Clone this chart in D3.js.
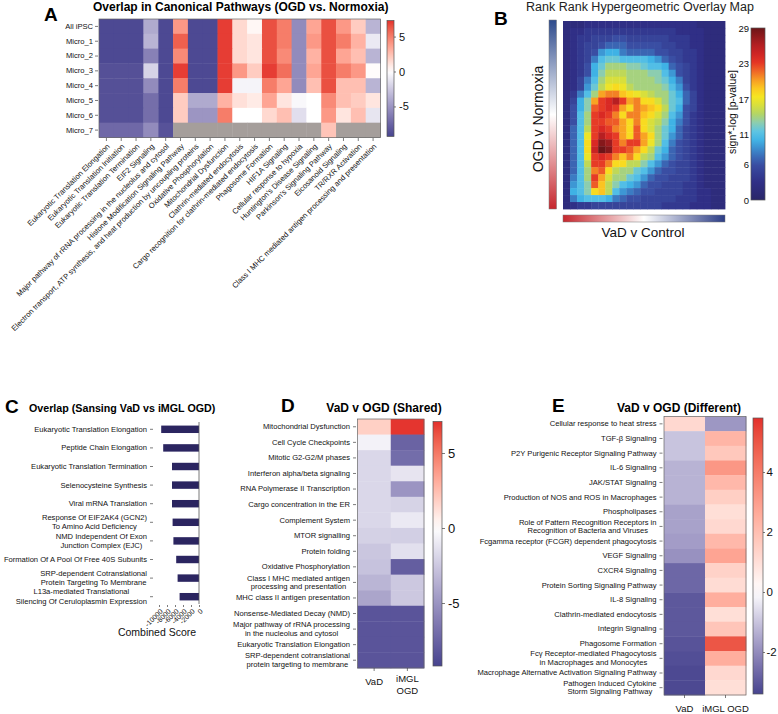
<!DOCTYPE html>
<html><head><meta charset="utf-8">
<script src="https://cdn.jsdelivr.net/npm/d3@7"></script>
<style>
body{margin:0;background:#fff}
svg{display:block}
text{font-family:"Liberation Sans",Arial,sans-serif}
</style>
</head><body>
<svg id="chart" width="778" height="714"></svg>
<script>
// ================= DATA =================
// Panel A
const samplesA = ["All iPSC","Micro_1","Micro_2","Micro_3","Micro_4","Micro_5","Micro_6","Micro_7"];
const pathwaysA = ["Eukaryotic Translation Elongation","Eukaryotic Translation Initiation","Eukaryotic Translation Termination","EIF2 Signaling","Major pathway of rRNA processing in the nucleolus and cytosol","Histone Modification Signaling Pathway","Electron transport, ATP synthesis, and heat production by uncoupling proteins","Oxidative Phosphorylation","Mitochondrial Dysfunction","Clathrin-mediated endocytosis","Cargo recognition for clathrin-mediated endocytosis","Phagosome Formation","HIF1A Signaling","Cellular response to hypoxia","Huntington's Disease Signaling","Parkinson's Signaling Pathway","Eicosanoid Signaling","TR/RXR Activation","Class I MHC mediated antigen processing and presentation"];
const valuesA = [
  [-9,-9,-9,-4,-9,4,-9,-9,7,1.5,0.3,6.5,5,-5.5,3.5,6.5,4,2,-3.5],
  [-9,-9,-9,-3.5,-9,6,-9,-9,7,1.5,1,6.5,5,-5.5,4,6.5,5,3,-1],
  [-9,-9,-9,-6,-9,4.5,-9,-9,7,1.5,1,6.5,4.5,-5.5,3,6.5,3.5,2.5,-3.5],
  [-8.6,-8.6,-8.6,-2,-9,7,-9,-9,7,4,2,7,5.5,-5.5,3.5,6.5,5,4,0.1],
  [-8.6,-8.6,-8.6,-5.5,-9,5,-9,-9,7,-0.5,-0.5,5,3.5,-5.5,2.5,6.5,2.5,2.5,-3.5],
  [-8.6,-8.6,-8.6,-7,-9,2,-4,-4,3,1.2,0.8,3.5,1,-0.3,0,4.5,2.5,2,1],
  [-8.6,-8.6,-8.6,-7,-9,2,-5,-5,5,0,0,1.5,2.5,-1.5,0,4,1,2.5,-1.2],
  [-7.3,-7.3,-7.3,-5.5,-8.5,null,null,null,null,null,null,null,null,null,null,2.3,null,null,null]
];
const ticksA = [5,0,-5];

// Panel B (RRHO map, rows top->bottom, cols left->right, sign*-log p)
const rrhoB = [
  [2,2,2,3,3,3,3,3,3,3,3,3,3,3,3,3,3,3,3,2,2,2,2],
  [2,3,3,4,4,4,4,4,4,4,4,4,4,4,4,4,3,3,3,3,2,2,2],
  [2,3,4,4,5,5,5,6,6,5,5,5,5,5,5,4,4,4,3,3,2,2,2],
  [2,3,4,5,5,6,7,7,7,6,6,6,6,6,5,5,4,4,3,3,2,2,2],
  [2,3,4,5,6,9,10,10,8,7,7,7,7,6,6,5,5,4,4,3,2,2,2],
  [2,3,4,5,8,11,12,12,11,11,11,11,10,9,7,6,5,4,4,3,2,2,2],
  [2,3,4,6,10,12,14,14,14,13,13,12,11,11,10,7,6,5,4,3,2,2,2],
  [2,3,4,6,10,13,15,15,15,14,14,14,13,13,11,9,6,5,4,3,2,2,2],
  [2,3,5,8,11,14,16,16,16,14,14,14,14,13,12,10,8,5,4,3,2,2,2],
  [2,3,5,9,12,15,17,18,17,15,14,14,14,14,13,11,9,6,4,3,2,2,2],
  [2,4,8,11,14,20,21,21,19,18,17,16,15,14,14,12,10,7,5,3,2,2,2],
  [2,5,10,13,20,23,24,26,23,20,21,18,18,16,14,12,11,7,5,3,2,2,2],
  [2,6,10,13,22,23,24,23,20,18,21,20,19,18,15,12,10,6,5,3,2,2,2],
  [2,6,11,14,23,24,23,21,18,21,21,19,18,16,14,11,9,6,4,3,2,2,2],
  [2,6,11,14,23,23,22,22,20,18,21,18,16,15,13,10,8,6,4,3,2,2,2],
  [2,7,11,15,23,24,23,21,20,18,22,18,16,14,12,10,7,5,4,3,2,2,2],
  [2,7,11,17,23,26,24,23,20,18,22,20,18,14,12,9,7,5,4,3,2,2,2],
  [2,7,11,18,24,28,27,23,21,23,23,20,17,14,11,8,6,5,4,3,2,2,2],
  [2,7,11,18,25,29,28,23,23,22,20,18,15,12,10,7,6,5,4,3,2,2,2],
  [2,7,11,17,23,24,23,21,19,21,18,15,14,11,9,7,6,5,4,3,2,2,2],
  [2,7,11,15,23,23,21,18,18,15,15,13,11,9,7,6,5,5,4,3,2,2,2],
  [2,7,11,14,21,22,18,15,14,14,12,11,9,7,6,6,5,5,4,3,2,2,2],
  [2,8,11,14,23,20,16,14,14,12,11,9,7,6,6,5,5,5,4,3,2,2,2],
  [2,9,11,13,22,19,15,13,11,10,9,7,6,6,5,5,5,4,4,3,2,2,2],
  [2,10,11,13,18,19,15,11,9,8,7,6,6,5,5,5,5,4,4,3,3,2,2],
  [2,8,10,11,11,11,10,8,7,6,6,5,5,5,5,5,4,4,4,3,3,2,2],
  [2,3,4,4,5,5,5,5,5,5,5,5,5,5,4,4,4,4,3,3,3,2,2]
];
const ticksB = [0,6,11,17,23,29];

// Panel C
const pathwaysC = ["Eukaryotic Translation Elongation","Peptide Chain Elongation","Eukaryotic Translation Termination","Selenocysteine Synthesis","Viral mRNA Translation","Response Of EIF2AK4 (GCN2)\nTo Amino Acid Deficiency","NMD Independent Of Exon\nJunction Complex (EJC)","Formation Of A Pool Of Free 40S Subunits","SRP-dependent Cotranslational\nProtein Targeting To Membrane","L13a-mediated Translational\nSilencing Of Ceruloplasmin Expression"];
const scoresC = [-9450,-8950,-6750,-6750,-6750,-6600,-6400,-5700,-5350,-4850];
const ticksC = [-10000,-8000,-6000,-4000,-2000,0];

// Panel D
const columnsDE = ["VaD","iMGL OGD"];
const pathwaysD = ["Mitochondrial Dysfunction","Cell Cycle Checkpoints","Mitotic G2-G2/M phases","Interferon alpha/beta signaling","RNA Polymerase II Transcription","Cargo concentration in the ER","Complement System","MTOR signalling","Protein folding","Oxidative Phosphorylation","Class I MHC mediated antigen\nprocessing and presentation","MHC class II antigen presentation","Nonsense-Mediated Decay (NMD)","Major pathway of rRNA processing\nin the nucleolus and cytosol","Eukaryotic Translation Elongation","SRP-dependent cotranslational\nprotein targeting to membrane"];
const vadD  = [1.8,-0.6,-1.8,-1.8,-1.8,-1.8,-1.8,-2.1,-2.6,-2.8,-3.4,-4.2,-8.3,-8.3,-8.3,-8.3];
const imglD = [7.0,-7.5,-7.0,-1.2,-5.0,-2.0,-1.0,-2.2,-1.4,-7.8,-2.5,-2.5,-8.3,-8.3,-8.3,-8.3];
const ticksD = [5,0,-5];

// Panel E
const pathwaysE = ["Cellular response to heat stress","TGF-\u03b2 Signaling","P2Y Purigenic Receptor Signaling Pathway","IL-6 Signaling","JAK/STAT Signaling","Production of NOS and ROS in Macrophages","Phospholipases","Role of Pattern Recognition Receptors in\nRecognition of Bacteria and Viruses","Fcgamma receptor (FCGR) dependent phagocytosis","VEGF Signaling","CXCR4 Signaling","Protein Sorting Signaling Pathway","IL-8 Signaling","Clathrin-mediated endocytosis","Integrin Signaling","Phagosome Formation","Fc\u03b3 Receptor-mediated Phagocytosis\nin Macrophages and Monocytes","Macrophage Alternative Activation Signaling Pathway","Pathogen Induced Cytokine\nStorm Signaling Pathway"];
const vadE  = [1.2,-1.0,-1.0,-1.3,-1.3,-1.3,-1.6,-1.6,-1.7,-1.9,-2.7,-2.7,-3.0,-3.0,-3.0,-3.1,-3.2,-3.3,-3.3];
const imglE = [-1.8,2.3,1.7,3.2,2.2,1.5,1.0,1.2,2.2,2.8,1.4,1.1,2.5,1.0,1.8,5.0,2.5,1.2,1.0];
const ticksE = [4,2,0,-2];

// ================= DRAWING =================
const svg = d3.select("#chart");
svg.append("rect").attr("width",778).attr("height",714).attr("fill","#fff");
const defs = svg.append("defs");
const BLUE = "#47448f", RED = "#e3302c";
function divScale(min, max){
  return d3.scaleLinear().domain([min,0,max]).range([BLUE,"#ffffff",RED]).interpolate(d3.interpolateLab).clamp(true);
}
function styleAxis(g, fs){
  g.attr("font-family",'"Liberation Sans",Arial,sans-serif').attr("font-size",fs);
  g.select(".domain").remove();
  g.selectAll(".tick line").attr("stroke","#444").attr("stroke-width",0.7);
  g.selectAll(".tick text").attr("fill","#111");
}
function multiline(g, lh, fs){
  g.selectAll(".tick text").each(function(d){
    const lines = String(d).split("\n");
    if(lines.length < 2) return;
    const t = d3.select(this);
    const x = +t.attr("x");
    t.text(null).attr("dy",null);
    const n = lines.length;
    lines.forEach((ln,i)=>{
      t.append("tspan").attr("x",x).attr("dy", i===0 ? (-(n-1)/2*lh + 0.32*fs) : lh).text(ln);
    });
    const maxW = d3.max(t.selectAll("tspan").nodes(), nd=>nd.getComputedTextLength());
    t.attr("text-anchor","middle");
    t.selectAll("tspan").attr("x", x - maxW/2);
  });
}
function vColorbar(id, x, y0, y1, w, scale, ticks, fs, tickSide){
  const dom = scale.domain();
  const min = dom[0], max = dom[dom.length-1];
  const grad = defs.append("linearGradient").attr("id",id).attr("x1",0).attr("y1",0).attr("x2",0).attr("y2",1);
  d3.range(0,1.0001,0.05).forEach(o=>{
    grad.append("stop").attr("offset",o).attr("stop-color", scale(max - o*(max-min)));
  });
  svg.append("rect").attr("x",x).attr("y",y0).attr("width",w).attr("height",y1-y0)
    .attr("fill",`url(#${id})`).attr("stroke","#555").attr("stroke-width",0.7);
  const ys = d3.scaleLinear().domain([min,max]).range([y1,y0]);
  const ax = (tickSide==="left" ? d3.axisLeft(ys) : d3.axisRight(ys)).tickValues(ticks).tickFormat(d=>String(d));
  const g = svg.append("g").attr("transform",`translate(${tickSide==="left"?x:x+w},0)`);
  return {g, ax, ys};
}

// ---------- Panel A ----------
const xA = d3.scaleBand().domain(pathwaysA).range([99, 380.5]);
const yA = d3.scaleBand().domain(samplesA).range([19, 137.5]);
const colA = divScale(-9.3, 7.3);
const cellsA = [];
samplesA.forEach((s,i)=>pathwaysA.forEach((p,j)=>cellsA.push({s,p,v:valuesA[i][j]})));
svg.append("g").selectAll("rect").data(cellsA).join("rect")
  .attr("x",d=>xA(d.p)).attr("y",d=>yA(d.s))
  .attr("width",xA.bandwidth()+0.4).attr("height",yA.bandwidth()+0.4)
  .attr("fill",d=>d.v===null ? "#a59e9b" : colA(d.v));
svg.append("rect").attr("x",99).attr("y",19).attr("width",281.5).attr("height",118.5)
  .attr("fill","none").attr("stroke","#666").attr("stroke-width",0.7);
svg.append("g").attr("transform","translate(98,0)")
  .call(d3.axisLeft(yA).tickSize(3).tickPadding(2))
  .call(g=>styleAxis(g,7.6));
svg.append("g").attr("transform","translate(0,138)")
  .call(d3.axisBottom(xA).tickSize(3))
  .call(g=>styleAxis(g,7.6))
  .call(g=>g.selectAll(".tick text").attr("x",0).attr("y",0).attr("dy","0.35em")
      .attr("text-anchor","end").attr("transform","translate(2,7) rotate(-45)"));
{
  const cb = vColorbar("gradA", 387, 20.5, 136.5, 7, colA, ticksA, 11, "right");
  cb.g.call(cb.ax.tickSize(2).tickPadding(3)).call(g=>styleAxis(g,11));
}
svg.append("text").attr("x",44).attr("y",21).attr("font-size",19).attr("font-weight","bold").text("A");
svg.append("text").attr("x",93).attr("y",11).attr("font-size",12).attr("font-weight","bold").text("Overlap in Canonical Pathways (OGD vs. Normoxia)");

// ---------- Panel B ----------
const nColB = rrhoB[0].length, nRowB = rrhoB.length;
const xB = d3.scaleBand().domain(d3.range(nColB)).range([563, 725]);
const yB = d3.scaleBand().domain(d3.range(nRowB)).range([21, 209]);
const colB = d3.scaleLinear()
  .domain([0,3,6,8,10,11.5,13,14.5,16,17.5,19,20.5,22,23.5,26,29])
  .range(["#2a2768","#302f86","#3a4ea3","#3b7cc3","#3fb2e5","#5cc4e6","#8ccdb0","#b3d566","#d8df3c","#f7e71f","#fbc421","#f69424","#ee5b27","#e22b25","#b71f22","#6c1518"])
  .clamp(true);
const cellsB = [];
rrhoB.forEach((row,i)=>row.forEach((v,j)=>cellsB.push({i,j,v})));
svg.append("g").selectAll("rect").data(cellsB).join("rect")
  .attr("x",d=>xB(d.j)).attr("y",d=>yB(d.i))
  .attr("width",xB.bandwidth()+0.4).attr("height",yB.bandwidth()+0.4)
  .attr("fill",d=>colB(d.v));
// side gradient bars
{
  const gv = defs.append("linearGradient").attr("id","gradBv").attr("x1",0).attr("y1",0).attr("x2",0).attr("y2",1);
  gv.append("stop").attr("offset",0).attr("stop-color","#2d4a8c");
  gv.append("stop").attr("offset",0.5).attr("stop-color","#ffffff");
  gv.append("stop").attr("offset",1).attr("stop-color","#c6262d");
  svg.append("rect").attr("x",549).attr("y",20).attr("width",7.5).attr("height",189)
    .attr("fill","url(#gradBv)").attr("stroke","#777").attr("stroke-width",0.5);
  const gh = defs.append("linearGradient").attr("id","gradBh").attr("x1",0).attr("y1",0).attr("x2",1).attr("y2",0);
  gh.append("stop").attr("offset",0).attr("stop-color","#c6262d");
  gh.append("stop").attr("offset",0.5).attr("stop-color","#ffffff");
  gh.append("stop").attr("offset",1).attr("stop-color","#2b3c86");
  svg.append("rect").attr("x",563).attr("y",215).attr("width",162).attr("height",7)
    .attr("fill","url(#gradBh)").attr("stroke","#777").attr("stroke-width",0.5);
}
{
  const cb = vColorbar("gradB", 751, 28, 200, 14, colB, ticksB, 9.5, "left");
  cb.g.call(cb.ax.tickSize(0).tickPadding(2)).call(g=>styleAxis(g,9.5));
}
svg.append("text").attr("x",494).attr("y",25).attr("font-size",19).attr("font-weight","bold").text("B");
svg.append("text").attr("x",640).attr("y",11).attr("font-size",12.5).attr("text-anchor","middle").attr("fill","#222").text("Rank Rank Hypergeometric Overlay Map");
svg.append("text").attr("x",643).attr("y",237).attr("font-size",13.5).attr("text-anchor","middle").attr("fill","#111").text("VaD v Control");
svg.append("text").attr("transform","translate(543,119) rotate(-90)").attr("font-size",14).attr("text-anchor","middle").attr("fill","#111").text("OGD v Normoxia");
svg.append("text").attr("transform","translate(736,112) rotate(-90)").attr("font-size",10.5).attr("text-anchor","middle").attr("fill","#111").text("sign*-log [p-value]");

// ---------- Panel C ----------
const yC = d3.scaleBand().domain(pathwaysC).range([420, 606]).paddingInner(0.6).paddingOuter(0.3);
const xC = d3.scaleLinear().domain([-10000, 0]).range([159, 199]);
svg.append("g").selectAll("rect").data(pathwaysC).join("rect")
  .attr("x",(d,i)=>xC(scoresC[i])).attr("y",d=>yC(d))
  .attr("width",(d,i)=>xC(0)-xC(scoresC[i])).attr("height",yC.bandwidth())
  .attr("fill","#2b2560");
svg.append("line").attr("x1",xC(0)).attr("x2",xC(0)).attr("y1",422).attr("y2",604)
  .attr("stroke","#555").attr("stroke-width",0.8);
svg.append("g").attr("transform","translate(153,0)")
  .call(d3.axisLeft(yC).tickSize(3).tickPadding(3))
  .call(g=>styleAxis(g,7.6))
  .call(g=>multiline(g,9.3,7.6));
svg.append("g").attr("transform","translate(0,605)")
  .call(d3.axisBottom(xC).tickValues(ticksC).tickFormat(d=>String(d)).tickSize(2))
  .call(g=>styleAxis(g,7))
  .call(g=>g.selectAll(".tick text").attr("x",0).attr("y",0).attr("dy","0.35em")
      .attr("text-anchor","end").attr("transform","translate(2,5) rotate(-45)"));
svg.append("text").attr("x",157).attr("y",636).attr("font-size",10.5).attr("text-anchor","middle").attr("fill","#111").text("Combined Score");
svg.append("text").attr("x",5).attr("y",413).attr("font-size",19).attr("font-weight","bold").text("C");
svg.append("text").attr("x",29).attr("y",412).attr("font-size",10.7).attr("font-weight","bold").text("Overlap (Sansing VaD vs iMGL OGD)");

// ---------- generic two-column heatmap ----------
function twoColHeatmap(rows, seriesList, x0, x1, y0, y1, col, labelLh){
  const xs = d3.scaleBand().domain(columnsDE).range([x0,x1]);
  const ys = d3.scaleBand().domain(rows).range([y0,y1]);
  const cells = [];
  rows.forEach((r,i)=>columnsDE.forEach((c,j)=>cells.push({r,c,v:seriesList[j][i]})));
  svg.append("g").selectAll("rect").data(cells).join("rect")
    .attr("x",d=>xs(d.c)).attr("y",d=>ys(d.r))
    .attr("width",xs.bandwidth()+0.4).attr("height",ys.bandwidth()+0.4)
    .attr("fill",d=>col(d.v));
  svg.append("rect").attr("x",x0).attr("y",y0).attr("width",x1-x0).attr("height",y1-y0)
    .attr("fill","none").attr("stroke","#666").attr("stroke-width",0.7);
  svg.append("g").attr("transform",`translate(${x0-1.5},0)`)
    .call(d3.axisLeft(ys).tickSize(3).tickPadding(3))
    .call(g=>styleAxis(g,7.6))
    .call(g=>multiline(g,labelLh,7.6));
  return {xs, ys};
}

// ---------- Panel D ----------
const colD = divScale(-9.2, 7.1);
{
  const {xs} = twoColHeatmap(pathwaysD, [vadD, imglD], 357.5, 424, 419, 668, colD, 8.5);
  svg.append("g").attr("transform","translate(0,668)")
    .call(d3.axisBottom(xs).tickSize(3).tickFormat(""))
    .call(g=>styleAxis(g,9.5));
  svg.append("text").attr("x",xs("VaD")+xs.bandwidth()/2).attr("y",685).attr("font-size",9.5).attr("text-anchor","middle").attr("fill","#111").text("VaD");
  svg.append("text").attr("x",xs("iMGL OGD")+xs.bandwidth()/2).attr("y",682).attr("font-size",9.5).attr("text-anchor","middle").attr("fill","#111")
    .selectAll("tspan").data(columnsDE[1].split(" ")).join("tspan")
    .attr("x",xs("iMGL OGD")+xs.bandwidth()/2).attr("dy",(d,i)=>i?12:0).text(d=>d);
  const cb = vColorbar("gradD", 433, 421.5, 666, 9, colD, ticksD, 13, "right");
  cb.g.call(cb.ax.tickSize(3).tickPadding(3)).call(g=>styleAxis(g,13));
}
svg.append("text").attr("x",281).attr("y",412).attr("font-size",19).attr("font-weight","bold").text("D");
svg.append("text").attr("x",384).attr("y",412).attr("font-size",12).attr("font-weight","bold").attr("text-anchor","middle").text("VaD v OGD (Shared)");

// ---------- Panel E ----------
const colE = divScale(-3.4, 5.8);
{
  const {xs} = twoColHeatmap(pathwaysE, [vadE, imglE], 664, 746, 416.5, 695, colE, 8.7);
  svg.append("g").attr("transform","translate(0,695)")
    .call(d3.axisBottom(xs).tickSize(3).tickFormat(""))
    .call(g=>styleAxis(g,9.5));
  columnsDE.forEach(c=>{
    svg.append("text").attr("x",xs(c)+xs.bandwidth()/2).attr("y",712).attr("font-size",9.5)
      .attr("text-anchor","middle").attr("fill","#111").text(c);
  });
  const cb = vColorbar("gradE", 753, 418, 694, 10, colE, ticksE, 11.5, "right");
  cb.g.call(cb.ax.tickSize(2).tickPadding(1.5)).call(g=>styleAxis(g,11.5));
}
svg.append("text").attr("x",552).attr("y",412).attr("font-size",19).attr("font-weight","bold").text("E");
svg.append("text").attr("x",679).attr("y",412).attr("font-size",12).attr("font-weight","bold").attr("text-anchor","middle").text("VaD v OGD (Different)");
</script>
</body></html>
